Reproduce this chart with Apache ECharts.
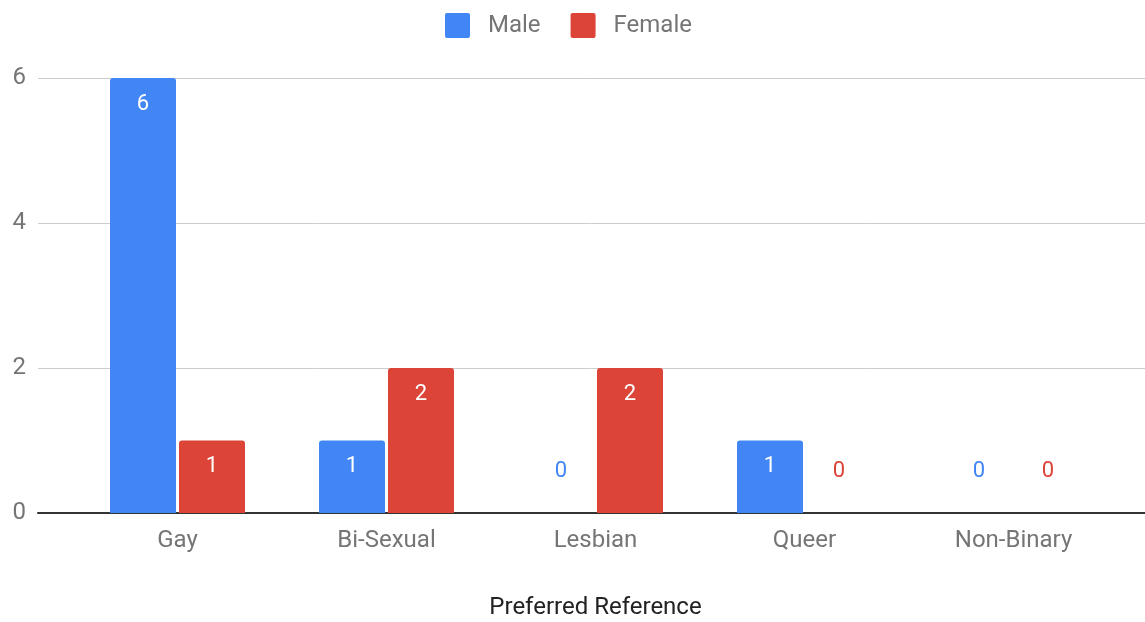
<!DOCTYPE html>
<html>
<head>
<meta charset="utf-8">
<script src="https://cdn.jsdelivr.net/npm/echarts@6/dist/echarts.min.js"></script>
<style>
  html, body { margin: 0; padding: 0; background: #fff; }
  #chart { width: 1145px; height: 622px; }
</style>
</head>
<body>
<div id="chart"></div>
<script>
const categories = ['Gay', 'Bi-Sexual', 'Lesbian', 'Queer', 'Non-Binary'];
const maleValues = [6, 1, 0, 1, 0];
const femaleValues = [1, 2, 2, 0, 0];
const seriesNames = ['Male', 'Female'];
const colors = ['#4285F4', '#DB4437'];

const FONT = 'Roboto, "Noto Sans", sans-serif';
const SQUARE = 'path://M2,0 L23,0 Q25,0 25,2 L25,23 Q25,25 23,25 L2,25 Q0,25 0,23 L0,2 Q0,0 2,0 Z';

function barData(values, color) {
  return values.map(v => {
    if (v !== 0) return v;
    // zero bars: label drawn in series colour, floating above the baseline
    return {
      value: v,
      label: { position: 'top', distance: 31, color: color }
    };
  });
}

function makeSeries(name, values, color) {
  return {
    name: name,
    type: 'bar',
    xAxisIndex: 1,
    yAxisIndex: 1,
    barWidth: 66,
    barGap: '4.5%',
    itemStyle: { color: color, borderRadius: [3, 3, 0, 0] },
    label: {
      show: true,
      position: 'insideTop',
      distance: 15,
      color: '#fff',
      fontFamily: FONT,
      fontSize: 22
    },
    data: barData(values, color)
  };
}

const chart = echarts.init(document.getElementById('chart'));
chart.setOption({
  animation: false,
  textStyle: { fontFamily: FONT },
  legend: {
    top: 8,
    left: 440,
    itemWidth: 25,
    itemHeight: 25,
    itemGap: 30,
    icon: SQUARE,
    data: seriesNames,
    textStyle: { color: '#757575', fontSize: 24, padding: [0, 0, 0, 13] }
  },
  grid: [
    { left: 38, right: 0, top: 78, bottom: 109, outerBoundsMode: 'none' },
    { left: 73, right: 27, top: 78, bottom: 109, outerBoundsMode: 'none' }
  ],
  xAxis: [
    {
      type: 'value', gridIndex: 0, min: 0, max: 1,
      axisLine: { show: true, lineStyle: { color: '#333', width: 2 } },
      axisTick: { show: false }, axisLabel: { show: false }, splitLine: { show: false }
    },
    {
      type: 'category', gridIndex: 1, data: categories,
      axisLine: { show: false }, axisTick: { show: false },
      axisLabel: { color: '#757575', fontSize: 24, margin: 16 },
      name: 'Preferred Reference', nameLocation: 'middle', nameGap: 83,
      nameTextStyle: { color: '#222', fontSize: 24 }
    }
  ],
  yAxis: [
    {
      type: 'value', gridIndex: 0, min: 0, max: 6, interval: 2,
      axisLine: { show: false }, axisTick: { show: false },
      axisLabel: { color: '#757575', fontSize: 24, margin: 12 },
      splitLine: { lineStyle: { color: '#cccccc', width: 1 } }
    },
    {
      type: 'value', gridIndex: 1, min: 0, max: 6, interval: 2,
      show: false
    }
  ],
  series: [
    makeSeries(seriesNames[0], maleValues, colors[0]),
    makeSeries(seriesNames[1], femaleValues, colors[1])
  ]
});
</script>
</body>
</html>
